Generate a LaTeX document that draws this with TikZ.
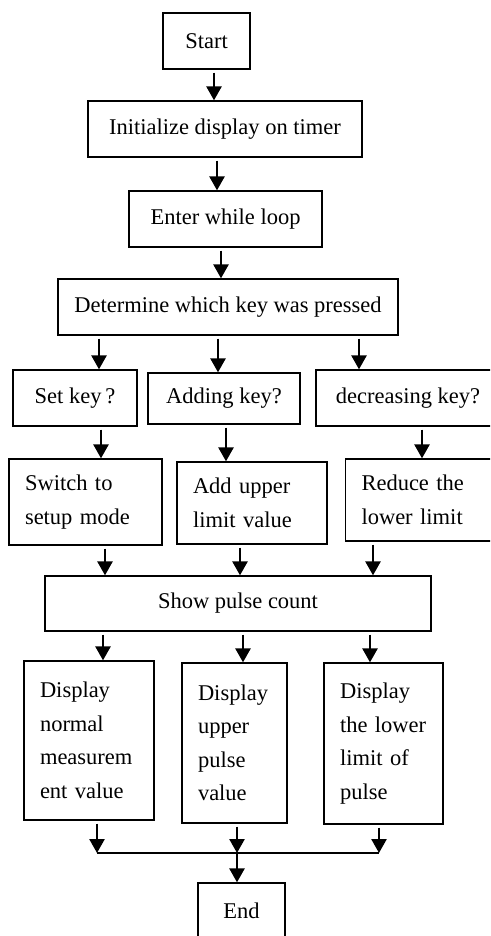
\documentclass[tikz,border=0pt]{standalone}
\usepackage{fontspec}
\setmainfont{Liberation Serif}
\usetikzlibrary{arrows.meta,calc}

\begin{document}
\begin{tikzpicture}[x=1pt,y=-1pt]
  \tikzset{box/.style={draw,line width=1.3pt,inner sep=0pt,font=\fontsize{22.5}{33.5}\selectfont}}
  \tikzset{tbox/.style={box,align=left,inner xsep=16pt,text width=#1}}
  \tikzset{flow/.style={-{Triangle[length=14pt,width=15pt]},line width=2.6pt,shorten <=3pt}}
  \useasboundingbox (0,0) rectangle (490,936);
  \clip (0,0) rectangle (490,936);
  % top chain
  \node[box,minimum width=87,minimum height=56] (start) at (206.5,41) {Start};
  \node[box,minimum width=274,minimum height=56] (init) at (225,129) {Initialize display on timer};
  \node[box,minimum width=193,minimum height=56] (loop) at (225.5,219) {Enter while loop};
  \node[box,minimum width=340,minimum height=56] (which) at (228,307) {Determine which key was pressed};
  % key tests
  \node[box,minimum width=124,minimum height=56] (setkey) at (75,398) {Set key\,?};
  \node[box,minimum width=152,minimum height=51] (addkey) at (224,398.5) {Adding key?};
  \node[box,minimum width=184,minimum height=56] (deckey) at (408,398) {decreasing key?};
  % actions
  \node[tbox=121,minimum height=86] (setup) at (85.5,502) {Switch to\\setup mode};
  \node[tbox=118,minimum height=82] (upper) at (252,503) {Add upper\\limit value};
  \node[tbox=123,minimum height=82] (lower) at (423,500) {Reduce the\\lower limit};
  \node[box,minimum width=386,minimum height=55] (count) at (238,603.5) {Show pulse count};
  % displays
  \node[tbox=98,minimum height=159] (dnorm) at (89,740.5) {Display\\normal\\measurem\\ent value};
  \node[tbox=73,minimum height=160] (dup) at (234.5,743) {Display\\upper\\pulse\\value};
  \node[tbox=87,minimum height=161] (dlow) at (383.5,743.5) {Display\\the lower\\limit of\\pulse};
  \node[box,minimum width=87,minimum height=56] (end) at (241.5,911) {End};
  % joins
  \coordinate (jl) at (97,853);
  \coordinate (jm) at (237,853);
  \coordinate (jr) at (379,853);
  % arrows
  \draw[flow] (start.south -| 214,0) -- (init.north -| 214,0);
  \draw[flow] (init.south -| 217,0) -- (loop.north -| 217,0);
  \draw[flow] (loop.south -| 221,0) -- (which.north -| 221,0);
  \draw[flow] (which.south -| 99,0) -- (setkey.north -| 99,0);
  \draw[flow] (which.south -| 218,0) -- (addkey.north -| 218,0);
  \draw[flow] (which.south -| 359,0) -- (deckey.north -| 359,0);
  \draw[flow] (setkey.south -| 101,0) -- (setup.north -| 101,0);
  \draw[flow] (addkey.south -| 226,0) -- (upper.north -| 226,0);
  \draw[flow] (deckey.south -| 422,0) -- (lower.north -| 422,0);
  \draw[flow] (setup.south -| 105,0) -- (count.north -| 105,0);
  \draw[flow] (upper.south -| 240,0) -- (count.north -| 240,0);
  \draw[flow] (lower.south -| 373,0) -- (count.north -| 373,0);
  \draw[flow] (count.south -| 103,0) -- (dnorm.north -| 103,0);
  \draw[flow] (count.south -| 243,0) -- (dup.north -| 243,0);
  \draw[flow] (count.south -| 370,0) -- (dlow.north -| 370,0);
  \draw[line width=1.3pt] (jl) -- (jr);
  \draw[flow] (dnorm.south -| jl) -- (jl);
  \draw[flow] (dup.south -| jm) -- (jm);
  \draw[flow] (dlow.south -| jr) -- (jr);
  \draw[flow,shorten <=0pt] (jm) -- (end.north -| jm);
\end{tikzpicture}
\end{document}
